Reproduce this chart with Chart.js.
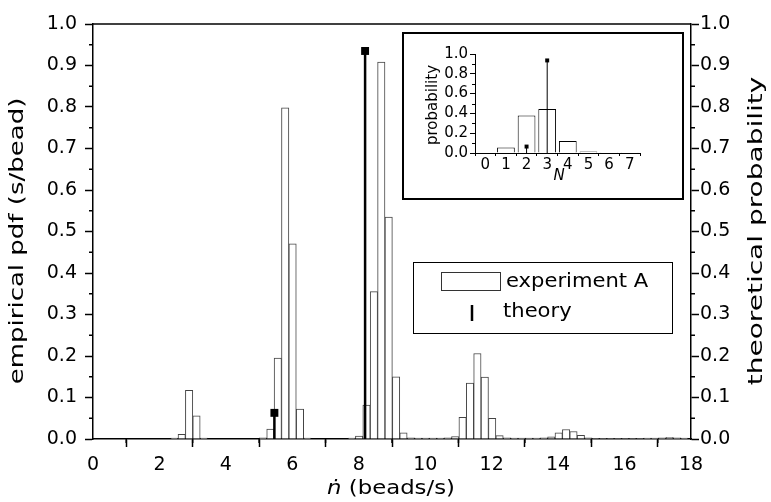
<!DOCTYPE html>
<html><head><meta charset="utf-8">
<script src="https://cdn.jsdelivr.net/npm/chart.js@4/dist/chart.umd.min.js"></script>
<style>
html,body{margin:0;padding:0;background:#fff;}
#wrap{position:relative;width:771px;height:502px;overflow:hidden;}
#main{position:absolute;left:0;top:0;}
#insetBox{position:absolute;left:402px;top:32px;width:278px;height:164px;border:2px solid #000;background:#fff;}
#inset{position:absolute;left:0;top:0;}
</style></head><body>
<div id="wrap">
<canvas id="main" width="771" height="502"></canvas>
<div id="insetBox"><canvas id="inset" width="278" height="164"></canvas></div>
</div>
<script>
// ---------- data ----------
const binCenters = [2.4475, 2.67, 2.8925, 3.115, 3.3375,
  5.1175, 5.34, 5.5625, 5.785, 6.0075, 6.23, 6.4525,
  7.7875, 8.01, 8.2325, 8.455, 8.6775, 8.9, 9.1225, 9.345, 9.5675, 9.79, 10.0125, 10.235, 10.4575, 10.68,
  10.9025, 11.125, 11.3475, 11.57, 11.7925, 12.015, 12.2375, 12.46, 12.6825, 12.905, 13.1275, 13.35, 13.5725,
  13.795, 14.0175, 14.24, 14.4625, 14.685, 14.9075, 15.13, 15.3525, 15.575, 15.7975, 16.02, 16.2425, 16.465, 16.6875,
  16.91, 17.1325, 17.355, 17.5775, 17.8];
const empiricalPdf = [0.002, 0.011, 0.117, 0.056, 0.002,
  0.003, 0.024, 0.195, 0.798, 0.470, 0.072, 0.002,
  0.002, 0.007, 0.082, 0.355, 0.908, 0.535, 0.150, 0.015, 0.003, 0.002, 0.002, 0.002, 0.002, 0.003,
  0.006, 0.052, 0.135, 0.206, 0.149, 0.050, 0.008, 0.003, 0.002, 0.002, 0.002, 0.002, 0.003,
  0.005, 0.015, 0.023, 0.018, 0.009, 0.003, 0.001, 0.001, 0.001, 0.001, 0.001, 0.001, 0.001, 0.002,
  0.002, 0.003, 0.004, 0.003, 0.002];
const theoryRate = [5.46, 8.19];
const theoryProb = [0.063, 0.935];

const insetN = [0, 1, 2, 3, 4, 5, 6, 7];
const insetExperiment = [0.0, 0.055, 0.380, 0.445, 0.122, 0.015, 0.008, 0.002];
const insetTheoryN = [2, 3];
const insetTheoryProb = [0.065, 0.935];

const xMinorTicks = [1, 3, 5, 7, 9, 11, 13, 15, 17];
const yMinorTicks = [0.05, 0.15, 0.25, 0.35, 0.45, 0.55, 0.65, 0.75, 0.85, 0.95];
const insetXTicks = [0, 1, 2, 3, 4, 5, 6, 7];
const insetYMinorTicks = [0.1, 0.3, 0.5, 0.7, 0.9];

const FONT = "'DejaVu Sans', sans-serif";
const MAINSIZE = 19;
const INSETSIZE = 15;

// ---------- helpers ----------
function line(ctx, x1, y1, x2, y2) { ctx.beginPath(); ctx.moveTo(x1, y1); ctx.lineTo(x2, y2); ctx.stroke(); }
// draw text with horizontal stretch (mimics the wide geometric font of the original)
function wideText(ctx, parts, cx, cy, stretch, rotate, align) {
  ctx.save();
  ctx.translate(cx, cy);
  if (rotate) ctx.rotate(-Math.PI / 2);
  ctx.scale(stretch, 1);
  let total = 0;
  parts.forEach(p => { ctx.font = p.font; p.w = ctx.measureText(p.text).width; total += p.w; });
  let x = align === 'left' ? 0 : -total / 2;
  ctx.textAlign = 'left'; ctx.textBaseline = 'middle';
  parts.forEach(p => { ctx.font = p.font; ctx.fillText(p.text, x, 0); x += p.w; });
  ctx.restore();
}

// ---------- main chart ----------
const histData = binCenters.map((x, i) => ({x: x, y: empiricalPdf[i]}));
const theoryData = [];
theoryRate.forEach((x, i) => { theoryData.push({x: x, y: 0}, {x: x, y: theoryProb[i]}, {x: x, y: null}); });

const mainDecor = {
  id: 'mainDecor',
  afterDraw(chart) {
    const ctx = chart.ctx, a = chart.chartArea, x = chart.scales.x, y = chart.scales.y;
    ctx.save();
    ctx.strokeStyle = '#000';
    ctx.lineWidth = 1.5;
    line(ctx, a.left, a.top, a.right, a.top);
    xMinorTicks.forEach(v => { const p = x.getPixelForValue(v); line(ctx, p, a.bottom, p, a.bottom + 4); });
    yMinorTicks.forEach(v => { const p = y.getPixelForValue(v); line(ctx, a.left - 4, p, a.left, p); line(ctx, a.right, p, a.right + 4, p); });
    ctx.fillStyle = '#000';
    const nf = MAINSIZE + 'px ' + FONT, itf = 'italic ' + MAINSIZE + 'px ' + FONT;
    const tf = '20px ' + FONT;
    wideText(ctx, [{text: 'empirical pdf (s/bead)', font: tf}], 18, 241, 1.3, true);
    wideText(ctx, [{text: 'theoretical probability', font: tf}], 757, 231, 1.4, true);
    wideText(ctx, [{text: '\u1E45', font: itf}, {text: ' (beads/s)', font: nf}], 391, 489, 1.2, false);
    // legend
    ctx.lineWidth = 1;
    ctx.strokeStyle = '#000';
    ctx.strokeRect(413.5, 262.5, 259, 71);
    ctx.strokeStyle = '#333';
    ctx.strokeRect(441.5, 272.5, 59, 18);
    wideText(ctx, [{text: 'experiment A', font: nf}], 506, 282, 1.11, false, 'left');
    ctx.strokeStyle = '#000';
    ctx.lineWidth = 2.5;
    line(ctx, 472, 305, 472, 321);
    wideText(ctx, [{text: 'theory', font: nf}], 503, 312, 1.11, false, 'left');
    ctx.restore();
  }
};

new Chart(document.getElementById('main'), {
  type: 'bar',
  data: {
    datasets: [
      {
        type: 'line', label: 'theory', data: theoryData, yAxisID: 'y2', order: 1,
        borderColor: '#000', borderWidth: 2.5, spanGaps: false,
        pointStyle: 'rect', backgroundColor: '#000', pointBackgroundColor: '#000', pointBorderWidth: 0,
        pointRadius: c => (c.raw && c.raw.y > 0) ? 5.6 : 0
      },
      {
        label: 'experiment A', data: histData, yAxisID: 'y', order: 2,
        backgroundColor: '#fff', borderColor: '#444', borderWidth: 1,
        barPercentage: 1, categoryPercentage: 1, borderSkipped: 'start'
      }
    ]
  },
  options: {
    responsive: false, animation: false, devicePixelRatio: 1,
    layout: {padding: {top: 24, left: 0, right: 0, bottom: 0}},
    plugins: {legend: {display: false}, tooltip: {enabled: false}, title: {display: false}},
    scales: {
      x: {
        type: 'linear', min: 0, max: 18, position: 'bottom', offset: false,
        ticks: {stepSize: 2, color: '#000', font: {family: FONT, size: MAINSIZE}, padding: 7, maxRotation: 0, autoSkip: false},
        grid: {display: true, drawOnChartArea: false, drawTicks: true, tickLength: 8, tickColor: '#000', tickWidth: 1.5, color: '#000'},
        border: {display: true, color: '#000', width: 1.5},
        afterFit: s => { s.height = 63; }
      },
      y: {
        min: 0, max: 1, position: 'left',
        ticks: {stepSize: 0.1, autoSkip: false, color: '#000', font: {family: FONT, size: MAINSIZE}, padding: 8, callback: v => v.toFixed(1)},
        grid: {display: true, drawOnChartArea: false, drawTicks: true, tickLength: 8, tickColor: '#000', tickWidth: 1.5, color: '#000'},
        border: {display: true, color: '#000', width: 1.5},
        afterFit: s => { s.width = 93; }
      },
      y2: {
        min: 0, max: 1, position: 'right',
        ticks: {stepSize: 0.1, autoSkip: false, color: '#000', font: {family: FONT, size: MAINSIZE}, padding: 1, callback: v => v.toFixed(1)},
        grid: {display: true, drawOnChartArea: false, drawTicks: true, tickLength: 8, tickColor: '#000', tickWidth: 1.5, color: '#000'},
        border: {display: true, color: '#000', width: 1.5},
        afterFit: s => { s.width = 80; }
      }
    }
  },
  plugins: [mainDecor]
});

// ---------- inset chart ----------
const insetBars = insetN.map((n, i) => ({x: n, y: insetExperiment[i]}));
const insetTheory = [];
insetTheoryN.forEach((n, i) => { insetTheory.push({x: n, y: 0}, {x: n, y: insetTheoryProb[i]}, {x: n, y: null}); });

const insetDecor = {
  id: 'insetDecor',
  afterDraw(chart) {
    const ctx = chart.ctx, a = chart.chartArea, y = chart.scales.y;
    ctx.save();
    ctx.strokeStyle = '#000'; ctx.lineWidth = 1;
    insetYMinorTicks.forEach(v => { const p = Math.round(y.getPixelForValue(v)) + 0.5; line(ctx, a.left - 3, p, a.left, p); });
    ctx.fillStyle = '#000';
    wideText(ctx, [{text: 'probability', font: INSETSIZE + 'px ' + FONT}], 29, 71, 1.0, true);
    wideText(ctx, [{text: 'N', font: 'italic ' + INSETSIZE + 'px ' + FONT}], 155, 142, 1.0, false);
    ctx.restore();
  }
};

new Chart(document.getElementById('inset'), {
  type: 'bar',
  data: {
    datasets: [
      {
        type: 'line', data: insetTheory, order: 1,
        borderColor: '#000', borderWidth: 1, spanGaps: false,
        pointStyle: 'rect', backgroundColor: '#000', pointBackgroundColor: '#000', pointBorderWidth: 0,
        pointRadius: c => (c.raw && c.raw.y > 0) ? 2.8 : 0
      },
      {
        data: insetBars, order: 2,
        backgroundColor: '#fff', borderColor: '#000', borderWidth: 1,
        barPercentage: 0.86, categoryPercentage: 1, borderSkipped: 'start'
      }
    ]
  },
  options: {
    responsive: false, animation: false, devicePixelRatio: 1,
    layout: {padding: {top: 20, left: 0, right: 42, bottom: 0}},
    plugins: {legend: {display: false}, tooltip: {enabled: false}},
    scales: {
      x: {
        type: 'linear', min: -0.5, max: 7.5, offset: false,
        afterBuildTicks: s => { s.ticks = insetXTicks.map(v => ({value: v})); },
        ticks: {color: '#000', font: {family: FONT, size: INSETSIZE}, padding: 0, maxRotation: 0, autoSkip: false},
        grid: {display: true, drawOnChartArea: false, drawTicks: true, tickLength: 3, tickColor: '#000', tickWidth: 1},
        border: {display: true, color: '#000', width: 1},
        afterFit: s => { s.height = 45; }
      },
      y: {
        min: 0, max: 1,
        ticks: {stepSize: 0.2, autoSkip: false, color: '#000', font: {family: FONT, size: INSETSIZE}, padding: 2, callback: v => v.toFixed(1)},
        grid: {display: true, drawOnChartArea: false, drawTicks: true, tickLength: 5, tickColor: '#000', tickWidth: 1},
        border: {display: true, color: '#000', width: 1},
        afterFit: s => { s.width = 71; }
      }
    }
  },
  plugins: [insetDecor]
});
</script>
</body></html>
